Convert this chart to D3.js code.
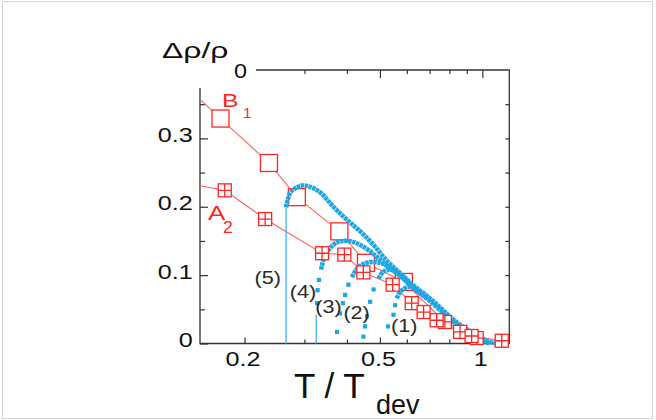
<!DOCTYPE html>
<html>
<head>
<meta charset="utf-8">
<script src="https://cdn.jsdelivr.net/npm/d3@7"></script>
<style>
  html, body { margin: 0; padding: 0; background: #fff; }
  svg { display: block; }
  text { font-family: "Liberation Sans", Arial, Helvetica, sans-serif; }
</style>
</head>
<body>
<svg id="chart" width="656" height="420"></svg>
<script>
// ---- Data: resistivity anomaly Δρ/ρ0 versus reduced temperature T/Tdev ----

// Series B1 (open squares) and A2 (crossed squares)
const b1T   = [0.135, 0.170, 0.236, 0.285, 0.380, 0.455, 0.588, 0.776, 0.962];
const b1Rho = [0.376, 0.329, 0.264, 0.214, 0.164, 0.118, 0.090, 0.0315, 0.008];
const a2T   = [0.140, 0.175, 0.230, 0.338, 0.393, 0.447, 0.545, 0.620, 0.672, 0.734, 0.860, 0.930, 1.14];
const a2Rho = [0.233, 0.224, 0.182, 0.132, 0.130, 0.104, 0.086, 0.059, 0.046, 0.034, 0.017, 0.011, 0.004];

// Measured curves (1)…(5): onset segment, sparse onset points, dense track
const curve5Rise = [[0.265, 0], [0.265, 0.199]];
const curve5 = [[0.265, 0.199], [0.268, 0.210], [0.273, 0.221], [0.282, 0.227], [0.295, 0.231],
  [0.312, 0.229], [0.334, 0.221], [0.365, 0.200], [0.400, 0.181], [0.438, 0.164], [0.479, 0.144],
  [0.524, 0.121], [0.573, 0.103], [0.627, 0.085], [0.686, 0.070], [0.751, 0.053], [0.821, 0.035],
  [0.899, 0.021], [0.984, 0.009], [1.04, 0.003], [1.10, 0.0]];

const curve4Rise = [[0.325, 0], [0.325, 0.042]];
const curve4Dots = [[0.327, 0.059], [0.328, 0.078], [0.331, 0.093]];
const curve4 = [[0.336, 0.108], [0.340, 0.120], [0.348, 0.132], [0.359, 0.141], [0.374, 0.148],
  [0.391, 0.150], [0.414, 0.149], [0.438, 0.144], [0.468, 0.135], [0.501, 0.122], [0.536, 0.110],
  [0.573, 0.099], [0.627, 0.081], [0.686, 0.066], [0.751, 0.049], [0.821, 0.032], [0.899, 0.018],
  [0.984, 0.006], [1.05, 0.0]];

const curve3Dots = [[0.374, 0.017], [0.382, 0.044], [0.389, 0.059], [0.395, 0.071], [0.404, 0.086]];
const curve3 = [[0.414, 0.097], [0.426, 0.108], [0.442, 0.115], [0.468, 0.119], [0.501, 0.118],
  [0.536, 0.111], [0.573, 0.100], [0.627, 0.082], [0.660, 0.073]];

const curve2Dots = [[0.447, 0.010], [0.452, 0.025], [0.458, 0.040], [0.468, 0.061], [0.479, 0.079]];
const curve2 = [[0.495, 0.095], [0.512, 0.105], [0.535, 0.108], [0.560, 0.104], [0.600, 0.092],
  [0.627, 0.083], [0.660, 0.074]];

const curve1Dots = [[0.528, 0.025], [0.548, 0.042], [0.554, 0.056]];
const curve1 = [[0.560, 0.066], [0.573, 0.075], [0.593, 0.081], [0.613, 0.083], [0.640, 0.078],
  [0.686, 0.067]];

const curveNames = ["(5)", "(4)", "(3)", "(2)", "(1)"];

// Axis ticks
const xMajorTicks = [0.2, 0.5, 1];
const xMajorLabels = ["0.2", "0.5", "1"];
const xMinorTicks = [0.3, 0.4, 0.6, 0.7, 0.8, 0.9];
const yMajorTicks = [0, 0.1, 0.2, 0.3];
const yMajorLabels = ["0", "0.1", "0.2", "0.3"];
const yMinorTicks = [0.05, 0.15, 0.25, 0.35];

// ---- Drawing ----
const ink = "#111";
const red = "#ff2424";
const redLine = "#ff6262";
const cyan = "#1ea6e2";

const svg = d3.select("#chart");
const W = 656, H = 420;
const plot = { left: 200, right: 509.3, top: 70, bottom: 343.5 };

const x = d3.scaleLog().domain([0.148, 1.2]).range([plot.left, plot.right]);
const y = d3.scaleLinear().domain([0, 0.4]).range([plot.bottom, plot.top]);

// light panel border
svg.append("rect")
  .attr("x", 2.5).attr("y", 1.5).attr("width", W - 6).attr("height", H - 3)
  .attr("fill", "none").attr("stroke", "#d4d4d4").attr("stroke-width", 1);

function stretchText(parent, str, px, py, size, sx, anchor, fill) {
  return parent.append("text")
    .attr("transform", `translate(${px},${py}) scale(${sx},1)`)
    .attr("text-anchor", anchor || "start")
    .attr("font-size", size)
    .attr("fill", fill || ink)
    .text(str);
}

// ---- axes (ticks point into the plot) ----
function styleAxis(g) {
  g.attr("font-family", null).attr("font-size", null).attr("color", "#333");
  g.select(".domain").remove();
  g.selectAll(".tick line").attr("stroke-width", 1.2);
}

const gxMajor = svg.append("g")
  .attr("transform", `translate(0,${plot.bottom})`)
  .call(d3.axisBottom(x).tickValues(xMajorTicks).tickSize(-6).tickPadding(8)
    .tickFormat((d, i) => xMajorLabels[i]))
  .call(styleAxis);
gxMajor.selectAll("text")
  .attr("font-size", 21).attr("fill", ink)
  .attr("transform", "translate(-2,0) scale(1.2,1)");

svg.append("g")
  .attr("transform", `translate(0,${plot.bottom})`)
  .call(d3.axisBottom(x).tickValues(xMinorTicks).tickSize(-4).tickFormat(""))
  .call(styleAxis);

// top axis (starts right of the y-axis title)
svg.append("g")
  .attr("transform", `translate(0,${plot.top})`)
  .call(d3.axisTop(x).tickValues([0.3, 0.4, 0.6, 0.7, 0.8, 0.9]).tickSize(-4).tickFormat(""))
  .call(styleAxis);
svg.append("g")
  .attr("transform", `translate(0,${plot.top})`)
  .call(d3.axisTop(x).tickValues([0.5, 1]).tickSize(-8).tickFormat(""))
  .call(styleAxis);

const gyMajor = svg.append("g")
  .attr("transform", `translate(${plot.left},0)`)
  .call(d3.axisLeft(y).tickValues(yMajorTicks).tickSize(-8).tickPadding(6)
    .tickFormat((d, i) => yMajorLabels[i]))
  .call(styleAxis);
gyMajor.selectAll("text")
  .attr("font-size", 21).attr("fill", ink)
  .attr("dy", "0.15em")
  .attr("transform", "scale(1.2,1)");

svg.append("g")
  .attr("transform", `translate(${plot.left},0)`)
  .call(d3.axisLeft(y).tickValues(yMinorTicks).tickSize(-5).tickFormat(""))
  .call(styleAxis);

svg.append("g")
  .attr("transform", `translate(${plot.right},0)`)
  .call(d3.axisRight(y).tickValues([0.05, 0.1, 0.15, 0.2, 0.25, 0.3, 0.35]).tickSize(-4).tickFormat(""))
  .call(styleAxis);

// frame
svg.append("path")
  .attr("d", `M${plot.left},88 V${plot.bottom} H${plot.right} V${plot.top} H256`)
  .attr("fill", "none").attr("stroke", "#333").attr("stroke-width", 1.3);

// ---- data layer ----
svg.append("clipPath").attr("id", "plotClip")
  .append("rect")
  .attr("x", plot.left).attr("y", plot.top)
  .attr("width", plot.right - plot.left + 6).attr("height", plot.bottom - plot.top + 6);

const layer = svg.append("g").attr("clip-path", "url(#plotClip)");

const b1 = b1T.map((t, i) => [t, b1Rho[i]]);
const a2 = a2T.map((t, i) => [t, a2Rho[i]]);

const straight = d3.line().x(d => x(d[0])).y(d => y(d[1]));
const smooth = d3.line().x(d => x(d[0])).y(d => y(d[1])).curve(d3.curveCatmullRom.alpha(0.5));

// connecting lines of the two series
[b1, a2].forEach(s => {
  layer.append("path").attr("d", straight(s))
    .attr("fill", "none").attr("stroke", redLine).attr("stroke-width", 1.1);
});

// markers
function crossedSquare(g, d, s) {
  const cx = x(d[0]), cy = y(d[1]);
  g.append("rect").attr("x", cx - s / 2).attr("y", cy - s / 2).attr("width", s).attr("height", s);
  g.append("path").attr("d", `M${cx - s / 2},${cy} H${cx + s / 2} M${cx},${cy - s / 2} V${cy + s / 2}`);
}

// large open squares of B1 sit beneath the measured curves
const squares = layer.append("g")
  .attr("fill", "#fff").attr("stroke", red).attr("stroke-width", 1.3);
b1.filter(d => d[0] < 0.7).forEach(d => {
  const s = 17;
  squares.append("rect")
    .attr("x", x(d[0]) - s / 2).attr("y", y(d[1]) - s / 2)
    .attr("width", s).attr("height", s);
});

// measured curves
const rises = [curve5Rise, curve4Rise];
const tracks = [curve5, curve4, curve3, curve2, curve1];
const onsetDots = [curve4Dots, curve3Dots, curve2Dots, curve1Dots];

rises.forEach(r => {
  layer.append("path").attr("d", straight(r))
    .attr("fill", "none").attr("stroke", "#3cb4e6").attr("stroke-width", 1.3);
});
tracks.forEach(tr => {
  layer.append("path").attr("d", smooth(tr))
    .attr("fill", "none").attr("stroke", cyan).attr("stroke-width", 4.6)
    .attr("stroke-dasharray", "3.4 0.6");
});
onsetDots.forEach(ds => {
  layer.selectAll(null).data(ds).enter().append("rect")
    .attr("x", d => x(d[0]) - 2.1).attr("y", d => y(d[1]) - 2.1)
    .attr("width", 4.2).attr("height", 4.2).attr("fill", cyan);
});

// crossed squares drawn on top
const crossed = layer.append("g")
  .attr("fill", "#fff").attr("stroke", red).attr("stroke-width", 1.3);
b1.filter(d => d[0] >= 0.7).forEach(d => crossedSquare(crossed, d, 13));
a2.forEach(d => crossedSquare(crossed, d, 13));

// curve labels
const labelAnchors = [[0.234, 0.087], [0.297, 0.067], [0.353, 0.045], [0.427, 0.036], [0.589, 0.017]];
curveNames.forEach((n, i) => {
  stretchText(svg, n, x(labelAnchors[i][0]), y(labelAnchors[i][1]), 18, 1.2, "middle", "#2a2a2a");
});

// series labels
stretchText(svg, "B", 222, 106.7, 19, 1.3, "start", red);
stretchText(svg, "1", 243, 118.3, 14, 1.1, "start", red);
stretchText(svg, "A", 208, 220, 20, 1.3, "start", red);
stretchText(svg, "2", 223, 233.3, 16, 1.1, "start", red);

// axis titles
stretchText(svg, "Δρ/ρ", 162, 57.5, 22, 1.45, "start", ink);
stretchText(svg, "0", 234, 78, 19.5, 1.2, "start", ink);

svg.append("text").attr("x", 294).attr("y", 398).attr("font-size", 35).attr("fill", ink)
  .attr("xml:space", "preserve").text("T / T");
svg.append("text").attr("x", 376).attr("y", 414).attr("font-size", 27).attr("fill", ink)
  .text("dev");
</script>
</body>
</html>
